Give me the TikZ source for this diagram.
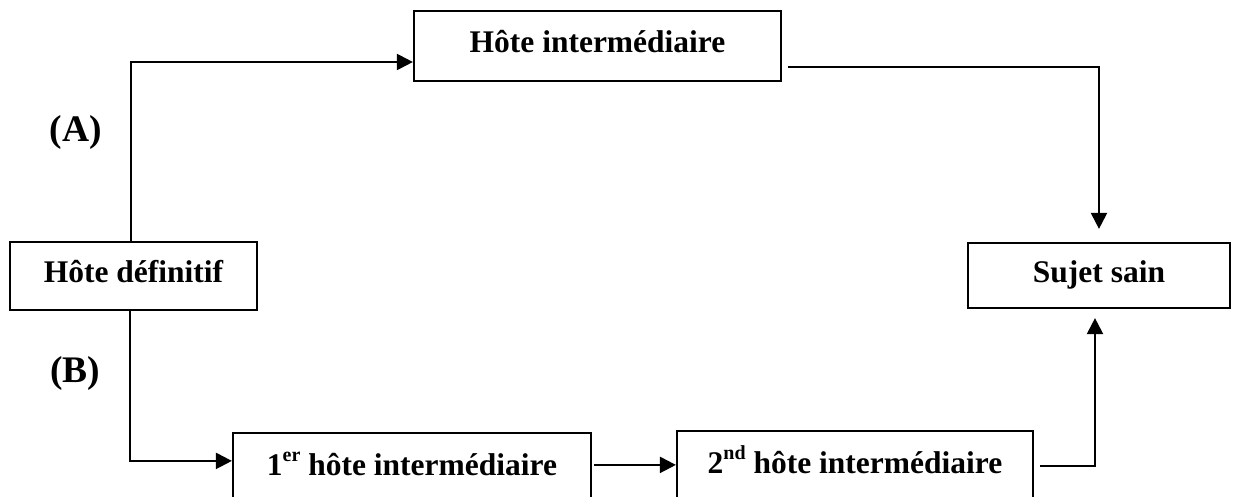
\documentclass[tikz,border=0pt]{standalone}
\usepackage{fontspec}
\setmainfont{Liberation Serif}
\usetikzlibrary{arrows.meta}
\newcommand{\supx}[1]{\raisebox{0.42em}{\fontsize{20}{20}\selectfont #1}}
\begin{document}
\begin{tikzpicture}[x=1pt,y=-1pt,
  box/.style={draw, line width=2.2pt, rectangle, inner sep=0pt,
    font=\fontsize{31.5}{36}\selectfont\bfseries, text height=21pt, text depth=7pt},
  arr/.style={line width=2.2pt, -{Triangle[length=16pt,width=16pt]}},
  lab/.style={font=\fontsize{37.5}{44}\selectfont\bfseries}]
\useasboundingbox (0,0) rectangle (1235,497);
\clip (0,0) rectangle (1235,497);
\node[box, minimum width=367pt, minimum height=70pt] (top) at (597.5,46) {Hôte intermédiaire};
\node[box, minimum width=247pt, minimum height=68pt] (def) at (133.5,276) {Hôte définitif};
\node[box, minimum width=262pt, minimum height=65pt] (sain) at (1099,275.5) {Sujet sain};
\node[box, minimum width=358pt, minimum height=70pt] (b1) at (412,468) {1\supx{er} hôte intermédiaire};
\node[box, minimum width=356pt, minimum height=70pt] (b2) at (855,466) {2\supx{nd} hôte intermédiaire};
\node[lab] (la) at (76,132) {(A)};
\node[lab] (lb) at (75,373) {(B)};
\draw[arr] ([xshift=-2.5pt]def.north) |- ([yshift=-16pt]top.west);
\draw[arr, shorten >=13pt] ([xshift=6pt,yshift=-21pt]top.east) -| (sain.north);
\draw[arr] ([xshift=-3.5pt]def.south) |- ([yshift=-29pt]b1.north west);
\draw[arr] ([xshift=2pt,yshift=-33pt]b1.north east) coordinate (p) -- (p -| b2.west);
\draw[arr, shorten >=9pt] ([xshift=6pt,yshift=-36pt]b2.north east) -| ([xshift=-4pt]sain.south);
\end{tikzpicture}
\end{document}
